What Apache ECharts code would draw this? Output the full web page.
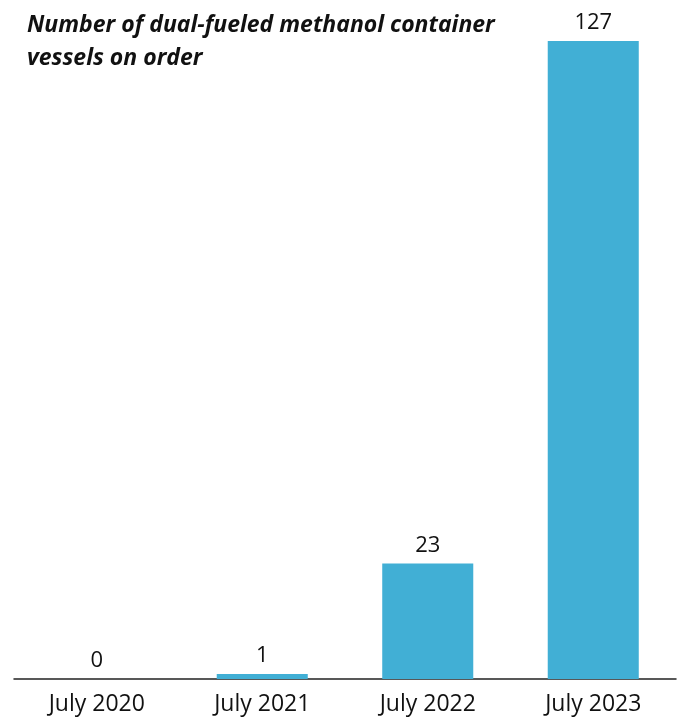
<!DOCTYPE html>
<html><head><meta charset="utf-8">
<script src="https://cdn.jsdelivr.net/npm/echarts@6/dist/echarts.min.js"></script>
<style>html,body{margin:0;padding:0;background:#fff}#c{width:677px;height:719px}</style>
</head><body><div id="c"></div>
<script>
const categories = ["July 2020", "July 2021", "July 2022", "July 2023"];
const vessels = [0, 1, 23, 127];
const titleText = "Number of dual-fueled methanol container\nvessels on order";

const chart = echarts.init(document.getElementById('c'), null, {renderer: 'canvas'});
chart.setOption({
  animation: false,
  title: {
    text: titleText,
    left: 22, top: 4,
    textStyle: {fontFamily: 'Open Sans', fontSize: 23, fontWeight: 'bold', fontStyle: 'italic', color: '#111', lineHeight: 33}
  },
  grid: {left: 14, right: 1, top: 41, bottom: 40},
  xAxis: {
    type: 'category', data: categories,
    axisLine: {lineStyle: {color: '#222', width: 1.5}},
    axisTick: {show: false},
    axisLabel: {fontFamily: 'Open Sans', fontSize: 23, color: '#111', margin: 14}
  },
  yAxis: {type: 'value', min: 0, max: 127, show: false, splitLine: {show: false}},
  series: [{
    type: 'bar', data: vessels, barWidth: '55%',
    itemStyle: {color: '#41afd5'},
    label: {show: true, position: 'top', distance: 7, fontFamily: 'Open Sans', fontSize: 22, color: '#111'}
  }]
});
</script></body></html>
